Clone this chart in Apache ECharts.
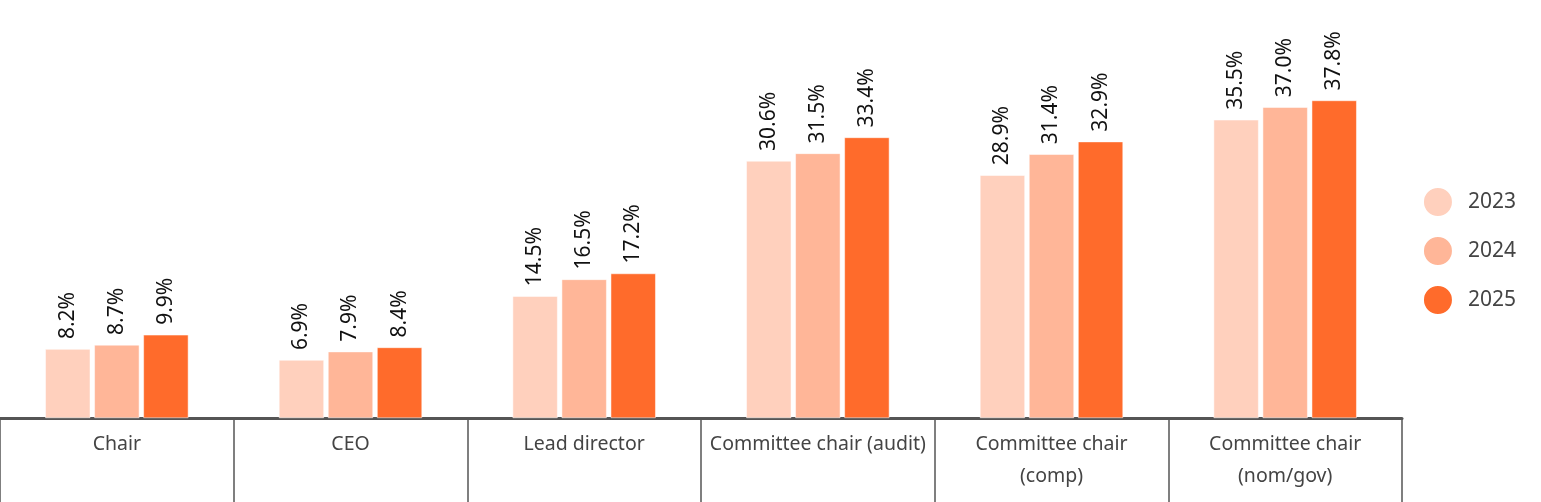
<!DOCTYPE html>
<html><head><meta charset="utf-8">
<script src="https://cdn.jsdelivr.net/npm/echarts@6/dist/echarts.min.js"></script>
<style>html,body{margin:0;padding:0;background:#fff}#c{width:1541px;height:502px}</style>
</head><body><div id="c"></div>
<script>
const categories = ['Chair','CEO','Lead director','Committee chair (audit)','Committee chair\n(comp)','Committee chair\n(nom/gov)'];
const years = ['2023','2024','2025'];
const v2023 = [8.2, 6.9, 14.5, 30.6, 28.9, 35.5];
const v2024 = [8.7, 7.9, 16.5, 31.5, 31.4, 37.0];
const v2025 = [9.9, 8.4, 17.2, 33.4, 32.9, 37.8];
const colors = ['#FFD0BD', '#FFB698', '#FF6B2B'];
const font = 'Noto Sans';
const chart = echarts.init(document.getElementById('c'));
const mk = (name, data, i) => ({
  name, type: 'bar', data, barWidth: 45, barGap: '9%',
  itemStyle: {color: colors[i], borderColor: '#fff', borderWidth: 0.5},
  label: {show: true, position: 'top', rotate: 90, align: 'left', verticalAlign: 'middle', distance: 10,
    formatter: p => p.value.toFixed(1) + '%', color: '#111', fontSize: 21, fontFamily: font}
});
chart.setOption({
  animation: false,
  grid: {left: 0, right: 139, top: 82, bottom: 84},
  legend: {orient: 'vertical', right: 20, top: 181, icon: 'circle', itemWidth: 30, itemHeight: 30, itemGap: 17,
    textStyle: {fontSize: 21, color: '#444', fontFamily: font, padding: [0,0,0,10]}, data: years},
  xAxis: {type: 'category', data: categories,
    axisLine: {lineStyle: {color: '#555', width: 3}},
    axisTick: {show: true, length: 90, lineStyle: {color: '#555', width: 1.5}},
    axisLabel: {color: '#444', fontSize: 19.5, fontFamily: font, margin: 10, lineHeight: 32, interval: 0}},
  yAxis: {type: 'value', min: 0, max: 40, show: false, splitLine: {show: false}},
  series: [mk(years[0], v2023, 0), mk(years[1], v2024, 1), mk(years[2], v2025, 2)]
});
</script></body></html>
